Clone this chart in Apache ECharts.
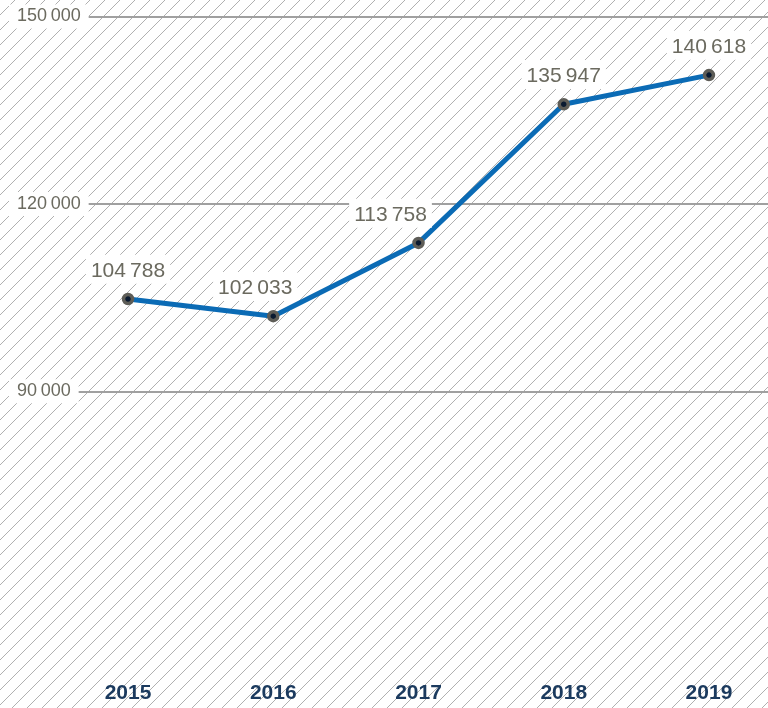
<!DOCTYPE html>
<html>
<head>
<meta charset="utf-8">
<script src="https://cdn.jsdelivr.net/npm/echarts@6/dist/echarts.min.js"></script>
<style>
html,body{margin:0;padding:0;background:#fff;}
#chart{width:768px;height:708px;}
</style>
</head>
<body>
<div id="chart"></div>
<script>
const categories = ['2015', '2016', '2017', '2018', '2019'];
const values = [104788, 102033, 113758, 135947, 140618];
const yTickLabels = [90000, 120000, 150000];

// label nudges (styling only), keyed by category
const labelNudge = {'2016': -18, '2017': -28};

function fmt(v) {
  const s = String(v);
  return s.slice(0, s.length - 3) + '\u2009' + s.slice(s.length - 3);
}

// hatch background
const T = 15;
const tile = document.createElement('canvas');
tile.width = T; tile.height = T;
const c = tile.getContext('2d');
c.fillStyle = '#fff'; c.fillRect(0, 0, T, T);
c.strokeStyle = '#b0b0b0'; c.lineWidth = 1;
[[-T, T, T, -T], [0, T, T, 0], [0, 2 * T, 2 * T, 0]].forEach(l => {
  c.beginPath(); c.moveTo(l[0], l[1]); c.lineTo(l[2], l[3]); c.stroke();
});
document.getElementById('chart').style.backgroundImage = 'url(' + tile.toDataURL() + ')';

const chart = echarts.init(document.getElementById('chart'), null, {renderer: 'canvas'});

const yMin = 45000, yMax = 150000, yInt = 15000;
const gridColors = [];
for (let v = yMin; v <= yMax; v += yInt) {
  gridColors.push(yTickLabels.indexOf(v) >= 0 ? '#a0a0a0' : 'rgba(0,0,0,0)');
}

const seriesData = values.map(function (v, i) {
  const dx = labelNudge[categories[i]] || 0;
  return {value: v, label: {offset: [dx, 0]}};
});

chart.setOption({
  backgroundColor: 'transparent',
  animation: false,
  grid: {left: 55.4, right: -13.6, top: 16.5, bottom: 35.5, containLabel: false, outerBoundsMode: 'none'},
  xAxis: {
    type: 'category',
    data: categories,
    boundaryGap: true,
    axisLine: {show: false},
    axisTick: {show: false},
    splitLine: {show: false},
    axisLabel: {
      margin: 10,
      color: '#1b3a5e',
      fontSize: 21,
      fontWeight: 'bold',
      fontFamily: 'Liberation Sans, Arial, sans-serif'
    }
  },
  yAxis: {
    type: 'value',
    min: yMin,
    max: yMax,
    interval: yInt,
    axisLine: {show: false},
    axisTick: {show: false},
    splitLine: {show: true, lineStyle: {color: gridColors, width: 2}},
    axisLabel: {
      customValues: yTickLabels,
      align: 'left',
      margin: 46.4,
      color: '#6b6a5f',
      fontSize: 18,
      fontFamily: 'Liberation Sans, Arial, sans-serif',
      backgroundColor: '#fff',
      padding: [5, 8, 1, 8],
      formatter: function (v) { return fmt(v); }
    }
  },
  series: [{
    type: 'line',
    data: seriesData,
    symbol: 'circle',
    symbolSize: 9,
    showAllSymbol: true,
    lineStyle: {color: '#0b6bb5', width: 5},
    itemStyle: {color: '#0a1a30', borderColor: '#5e5d57', borderWidth: 3.5},
    label: {
      show: true,
      position: 'top',
      distance: 9,
      color: '#6b6a5f',
      fontSize: 21,
      fontFamily: 'Liberation Sans, Arial, sans-serif',
      backgroundColor: '#fff',
      padding: [6, 5, 2, 5],
      formatter: function (p) { return fmt(p.value); }
    }
  }]
});
</script>
</body>
</html>
